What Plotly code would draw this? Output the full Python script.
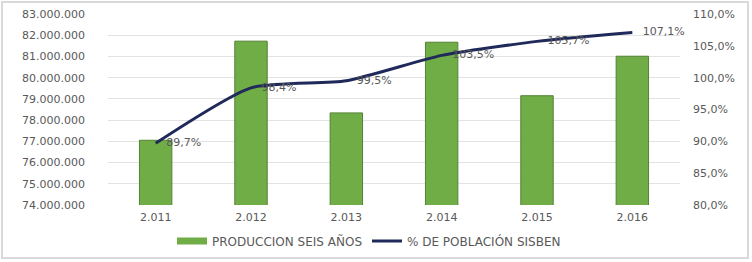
import plotly.graph_objects as go

years = ["2.011", "2.012", "2.013", "2.014", "2.015", "2.016"]
produccion = [77050000, 81720000, 78340000, 81670000, 79150000, 81010000]
poblacion_pct = [89.7, 98.4, 99.5, 103.5, 105.7, 107.1]

bar_name = "PRODUCCION SEIS AÑOS"
line_name = "% DE POBLACIÓN SISBEN"

FONT = "DejaVu Sans, Verdana, sans-serif"
GRAY = "#595959"
GREEN = "#70AD47"

fig = go.Figure()
fig.add_trace(go.Bar(
    x=years, y=produccion, name=bar_name, showlegend=False,
    marker=dict(color=GREEN, line=dict(color="#548235", width=1)),
    yaxis="y", hoverinfo="skip",
))
# legend swatch for the bars (wide rectangle like the original)
fig.add_trace(go.Scatter(
    x=[None], y=[None], name=bar_name, mode="lines",
    line=dict(color=GREEN, width=7), yaxis="y", hoverinfo="skip",
))
fig.add_trace(go.Scatter(
    x=years, y=poblacion_pct, name=line_name, yaxis="y2",
    mode="lines+text", line=dict(color="#1F2A5A", width=3, shape="spline", smoothing=0.6),
    text=poblacion_pct, texttemplate="\u00a0\u00a0\u00a0%{y:.1f}%", textposition="middle right",
    textfont=dict(family=FONT, size=11, color=GRAY), hoverinfo="skip",
    cliponaxis=False,
))

fig.update_layout(
    width=752, height=262,
    margin=dict(l=108, r=72, t=14, b=57, autoexpand=False),
    paper_bgcolor="white", plot_bgcolor="white",
    separators=",.",
    font=dict(family=FONT, size=11, color=GRAY),
    bargap=0.66,
    showlegend=True,
    legend=dict(orientation="h", x=(172 - 108) / 572, xanchor="left", y=-0.188, yanchor="middle",
                font=dict(family=FONT, size=12, color=GRAY),
                traceorder="normal"),
    xaxis=dict(showgrid=False, showline=False, ticks="", ticklabelstandoff=4, automargin=False,
               tickfont=dict(size=11, color=GRAY)),
    yaxis=dict(range=[74000000, 83000000], dtick=1000000, tickformat=",d",
               showgrid=True, gridcolor="#E3E3E3", gridwidth=1, zeroline=False,
               showline=False, ticks="", ticklabelstandoff=22, automargin=False,
               tickfont=dict(size=11, color=GRAY)),
    yaxis2=dict(range=[80, 110], dtick=5, tickformat=".1f", ticksuffix="%",
                overlaying="y", side="right", showgrid=False, zeroline=False,
                showline=False, ticks="", ticklabelstandoff=12, automargin=False,
                tickfont=dict(size=11, color=GRAY)),
    shapes=[dict(type="rect", xref="paper", yref="paper",
                 x0=-106/572, x1=640/572, y0=-53/191, y1=203/191,
                 line=dict(color="#D9D9D9", width=2), fillcolor="rgba(0,0,0,0)", layer="below")],
)

fig.write_html("out.html", config={"displayModeBar": False},
               post_script="document.body.style.margin='0';document.body.style.overflow='hidden';")
